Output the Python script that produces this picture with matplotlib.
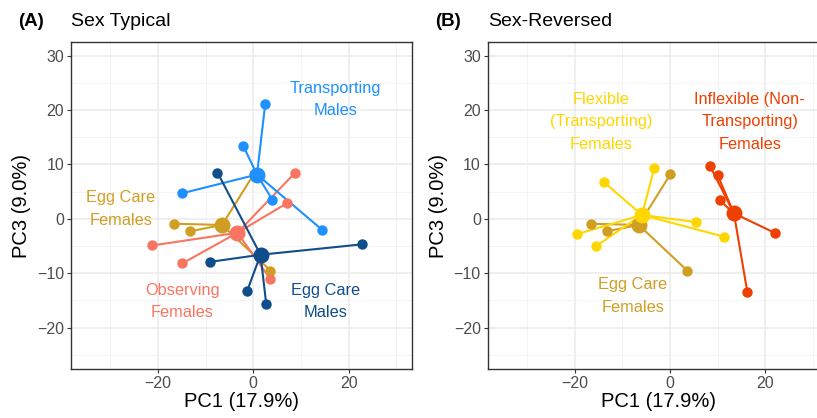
import numpy as np
import matplotlib.pyplot as plt

plt.rcParams['font.family'] = ['Liberation Sans', 'DejaVu Sans']

# panel A : sex typical
transport_m_x = [2.5, -2.1, -14.9, 4.0, 14.4]
transport_m_y = [21.1, 13.4, 4.7, 3.5, -2.0]

eggcare_m_x = [-7.5, -9.0, 22.7, -1.3, 2.7]
eggcare_m_y = [8.5, -7.9, -4.7, -13.3, -15.6]

eggcare_f_x = [0.1, -16.6, -13.3, 3.6]
eggcare_f_y = [8.2, -0.9, -2.3, -9.5]

observ_f_x = [8.8, 7.1, -21.2, -14.9, 3.6]
observ_f_y = [8.5, 2.9, -4.9, -8.2, -11.1]

# panel B : sex reversed
flex_f_x = [-3.3, -13.8, -19.4, -15.5, 5.4, 11.4]
flex_f_y = [9.3, 6.7, -2.8, -5.0, -0.6, -3.3]

inflex_f_x = [8.4, 10.0, 10.4, 22.0, 16.2]
inflex_f_y = [9.7, 8.0, 3.4, -2.6, -13.4]

c_transport = '#1E90FF'
c_eggm = '#104E8B'
c_eggf = '#D09E22'
c_observ = '#FA7561'
c_flex = '#FFD700'
c_inflex = '#EE4000'

groups_a = [
    (eggcare_f_x, eggcare_f_y, c_eggf),
    (observ_f_x, observ_f_y, c_observ),
    (transport_m_x, transport_m_y, c_transport),
    (eggcare_m_x, eggcare_m_y, c_eggm),
]
groups_b = [
    (eggcare_f_x, eggcare_f_y, c_eggf),
    (flex_f_x, flex_f_y, c_flex),
    (inflex_f_x, inflex_f_y, c_inflex),
]

labels_a = [
    ("Transporting\nMales", 17.2, 21.9, c_transport),
    ("Egg Care\nFemales", -27.8, 1.8, c_eggf),
    ("Observing\nFemales", -14.9, -15.2, c_observ),
    ("Egg Care\nMales", 15.1, -15.2, c_eggm),
]
labels_b = [
    ("Flexible\n(Transporting)\nFemales", -14.5, 17.8, c_flex),
    ("Inflexible (Non-\nTransporting)\nFemales", 16.7, 17.8, c_inflex),
    ("Egg Care\nFemales", -7.8, -14.2, c_eggf),
]


def spider(ax, groups):
    # segments first, then the points, then the centroids
    cents = []
    for xs, ys, col in groups:
        cx, cy = np.mean(xs), np.mean(ys)
        cents.append((cx, cy, col))
        for x, y in zip(xs, ys):
            ax.plot([cx, x], [cy, y], color=col, lw=1.5, zorder=2)
    for xs, ys, col in groups:
        ax.plot(xs, ys, 'o', color=col, ms=7.5, mec='none', zorder=3)
    for cx, cy, col in cents:
        ax.plot(cx, cy, 'o', color=col, ms=11.5, mec='none', zorder=4)


def habiller(ax):
    ax.set_xlim(-38.2, 33.2)
    ax.set_ylim(-27.6, 32.5)
    ax.set_xticks([-20, 0, 20])
    ax.set_yticks([-20, -10, 0, 10, 20, 30])
    ax.set_xticks([-30, -10, 10, 30], minor=True)
    ax.set_yticks([-25, -15, -5, 5, 15, 25], minor=True)
    ax.grid(which='major', color='#EBEBEB', lw=1.1, zorder=0)
    ax.grid(which='minor', color='#F3F3F3', lw=0.6, zorder=0)
    ax.set_axisbelow(True)
    ax.tick_params(which='minor', length=0)
    ax.tick_params(which='major', length=3, width=0.8, color='#333333',
                   labelcolor='#4D4D4D', labelsize=11.5, pad=2)
    for s in ax.spines.values():
        s.set_color('#333333')
        s.set_linewidth(1.0)
    ax.set_xlabel('PC1 (17.9%)', fontsize=14.5, labelpad=1)
    ax.set_ylabel('PC3 (9.0%)', fontsize=14.5, labelpad=4)


fig = plt.figure(figsize=(8.17, 4.18), dpi=100)
axA = fig.add_axes([71 / 817, 1 - 369 / 418, 340.7 / 817, 327 / 418])
axB = fig.add_axes([487.7 / 817, 1 - 369 / 418, 340.7 / 817, 327 / 418])

spider(axA, groups_a)
spider(axB, groups_b)

for t, x, y, col in labels_a:
    axA.text(x, y, t, color=col, ha='center', va='center', fontsize=11.8, linespacing=1.6)
for t, x, y, col in labels_b:
    axB.text(x, y, t, color=col, ha='center', va='center', fontsize=11.8, linespacing=1.6)

habiller(axA)
habiller(axB)

fig.text(18 / 817, 1 - 22 / 418, '(A)', fontsize=13.5, fontweight='bold', va='center')
fig.text(70.7 / 817, 1 - 22 / 418, 'Sex Typical', fontsize=14, va='center')
fig.text(435 / 817, 1 - 22 / 418, '(B)', fontsize=13.5, fontweight='bold', va='center')
fig.text(487.7 / 817, 1 - 22 / 418, 'Sex-Reversed', fontsize=14, va='center')

fig.savefig('out.png', dpi=100)
